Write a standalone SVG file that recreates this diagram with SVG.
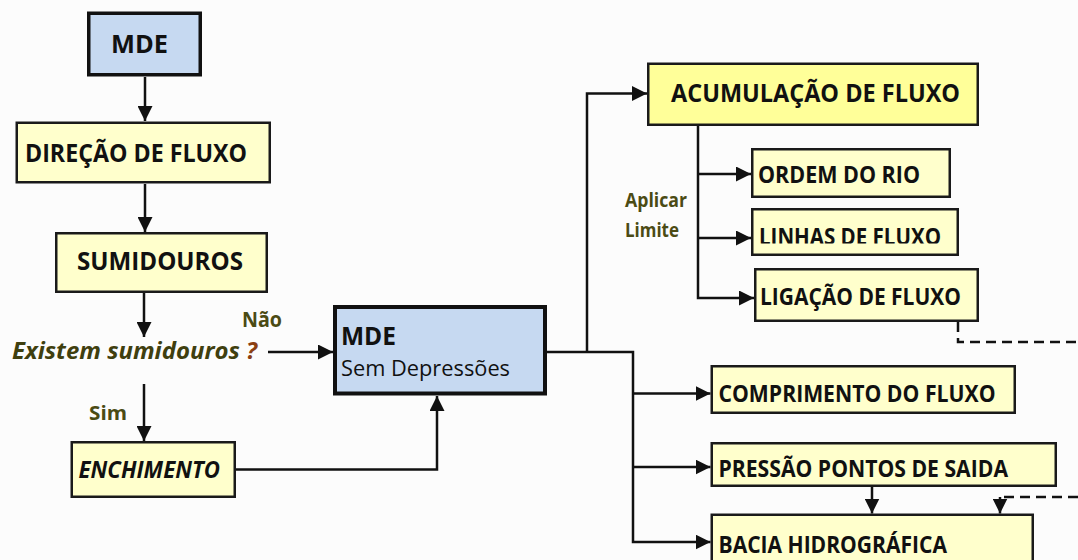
<svg xmlns="http://www.w3.org/2000/svg" width="1078" height="560" viewBox="0 0 1078 560">
  <style>
    .box-y { fill: #ffffcc; stroke: #1a1a1a; stroke-width: 2.5; }
    .box-acc { fill: #ffff99; stroke: #1a1a1a; stroke-width: 2.5; }
    .box-b { fill: #c6d9f1; stroke: #111111; stroke-width: 4; }
    .lbl { font-family: "Open Sans", "Liberation Sans", sans-serif; font-weight: bold; fill: #111111; }
    .big { font-size: 25.5px; }
    .mid { font-size: 22.5px; }
    .note { font-family: "Open Sans", "Liberation Sans", sans-serif; font-weight: bold; fill: #4b4b14; font-size: 19.5px; }
    .conn { fill: none; stroke: #111111; stroke-width: 2.5; }
    .dash { fill: none; stroke: #111111; stroke-width: 2.5; stroke-dasharray: 10 6; }
  </style>
  <defs>
    <marker id="arrow" markerUnits="userSpaceOnUse" markerWidth="15" markerHeight="15" viewBox="0 0 15 15" refX="15" refY="7.5" orient="auto">
      <path d="M0,0 L15,7.5 L0,15 z" fill="#111111"/>
    </marker>
    <clipPath id="clip-linhas">
      <rect x="752" y="205" width="206" height="38.5"/>
    </clipPath>
  </defs>

  <rect width="1078" height="560" fill="#fcfcfc"/>

  <!-- connectors -->
  <g id="connectors">
    <path class="conn" d="M145,77 V121" marker-end="url(#arrow)"/>
    <path class="conn" d="M145,184 V232" marker-end="url(#arrow)"/>
    <path class="conn" d="M144,293 V337" marker-end="url(#arrow)"/>
    <path class="conn" d="M144,384 V441" marker-end="url(#arrow)"/>
    <path class="conn" d="M268,352 H333" marker-end="url(#arrow)"/>
    <path class="conn" d="M236,469.5 H437 V396" marker-end="url(#arrow)"/>
    <path class="conn" d="M547,352 H633 V542 H710.5" marker-end="url(#arrow)"/>
    <path class="conn" d="M633,393.5 H710.5" marker-end="url(#arrow)"/>
    <path class="conn" d="M633,467 H710.5" marker-end="url(#arrow)"/>
    <path class="conn" d="M587,352 V93.5 H647" marker-end="url(#arrow)"/>
    <path class="conn" d="M698,126 V298 H754" marker-end="url(#arrow)"/>
    <path class="conn" d="M698,174 H751" marker-end="url(#arrow)"/>
    <path class="conn" d="M698,238 H751" marker-end="url(#arrow)"/>
    <path class="conn" d="M872,487 V513.5" marker-end="url(#arrow)"/>
    <path class="dash" d="M958,322 V342 H1078"/>
    <path class="dash" d="M1078,497 H1000"/>
    <path class="conn" d="M1000,497 V513.5" marker-end="url(#arrow)"/>
  </g>

  <!-- left column -->
  <g id="mde">
    <rect class="box-b" x="88.75" y="13.25" width="111.5" height="61.5" style="stroke-width:3.5"/>
    <text class="lbl big" x="111" y="53" textLength="57" lengthAdjust="spacingAndGlyphs">MDE</text>
  </g>
  <g id="direcao-fluxo">
    <rect class="box-y" x="16.75" y="122.75" width="253" height="59.5"/>
    <text class="lbl big" x="25" y="162" textLength="222" lengthAdjust="spacingAndGlyphs">DIREÇÃO DE FLUXO</text>
  </g>
  <g id="sumidouros">
    <rect class="box-y" x="56.25" y="233.25" width="210.5" height="58.5"/>
    <text class="lbl big" x="77" y="270" textLength="166" lengthAdjust="spacingAndGlyphs">SUMIDOUROS</text>
  </g>
  <g id="decisao">
    <text x="12" y="359" font-family="'Open Sans', 'Liberation Sans', sans-serif" font-weight="bold" font-style="italic" font-size="23" fill="#3f3f0f" textLength="245" lengthAdjust="spacingAndGlyphs">Existem sumidouros <tspan fill="#8b3f12">?</tspan></text>
    <text class="note" x="242" y="327" textLength="40" lengthAdjust="spacingAndGlyphs" style="font-size:21px">Não</text>
    <text class="note" x="89" y="419.5" textLength="38" lengthAdjust="spacingAndGlyphs" style="font-size:20px">Sim</text>
  </g>
  <g id="enchimento">
    <rect class="box-y" x="71.75" y="442.25" width="163" height="54.5"/>
    <text class="lbl" x="78.5" y="478" font-size="23" font-style="italic" textLength="141.5" lengthAdjust="spacingAndGlyphs">ENCHIMENTO</text>
  </g>
  <g id="mde-sem-depressoes">
    <rect class="box-b" x="335" y="307" width="210" height="86.5"/>
    <text class="lbl" x="341" y="345" font-size="24.5" textLength="55" lengthAdjust="spacingAndGlyphs">MDE</text>
    <text x="341" y="376" font-family="'Open Sans', 'Liberation Sans', sans-serif" font-size="22" fill="#111111" textLength="169" lengthAdjust="spacingAndGlyphs">Sem Depressões</text>
  </g>

  <!-- accumulation branch -->
  <g id="acumulacao">
    <rect class="box-acc" x="648.25" y="63.75" width="329.5" height="61"/>
    <text class="lbl big" x="671" y="101.5" textLength="289" lengthAdjust="spacingAndGlyphs">ACUMULAÇÃO DE FLUXO</text>
  </g>
  <g id="aplicar-limite">
    <text class="note" x="625" y="207" textLength="62" lengthAdjust="spacingAndGlyphs">Aplicar</text>
    <text class="note" x="625" y="237" textLength="54" lengthAdjust="spacingAndGlyphs">Limite</text>
  </g>
  <g id="ordem-rio">
    <rect class="box-y" x="752.25" y="149.25" width="197.5" height="47.5"/>
    <text class="lbl mid" x="758" y="183" textLength="162" lengthAdjust="spacingAndGlyphs">ORDEM DO RIO</text>
  </g>
  <g id="linhas-fluxo">
    <rect class="box-y" x="752.25" y="209.25" width="205.5" height="45.5"/>
    <text class="lbl mid" x="759" y="245" textLength="182" lengthAdjust="spacingAndGlyphs" clip-path="url(#clip-linhas)">LINHAS DE FLUXO</text>
  </g>
  <g id="ligacao-fluxo">
    <rect class="box-y" x="755.25" y="269.25" width="222.5" height="51.5"/>
    <text class="lbl mid" x="760" y="305" textLength="201" lengthAdjust="spacingAndGlyphs">LIGAÇÃO DE FLUXO</text>
  </g>

  <!-- lower branch -->
  <g id="comprimento-fluxo">
    <rect class="box-y" x="711.75" y="366.25" width="303" height="46.5"/>
    <text class="lbl mid" x="718.5" y="401.5" textLength="277" lengthAdjust="spacingAndGlyphs">COMPRIMENTO DO FLUXO</text>
  </g>
  <g id="pressao-pontos">
    <rect class="box-y" x="711.75" y="443.25" width="344" height="42.5"/>
    <text class="lbl mid" x="718.5" y="476.5" textLength="289.5" lengthAdjust="spacingAndGlyphs">PRESSÃO PONTOS DE SAIDA</text>
  </g>
  <g id="bacia">
    <rect class="box-y" x="711.75" y="514.75" width="321" height="60"/>
    <text class="lbl mid" x="718.5" y="553" textLength="228.5" lengthAdjust="spacingAndGlyphs">BACIA HIDROGRÁFICA</text>
  </g>
</svg>
